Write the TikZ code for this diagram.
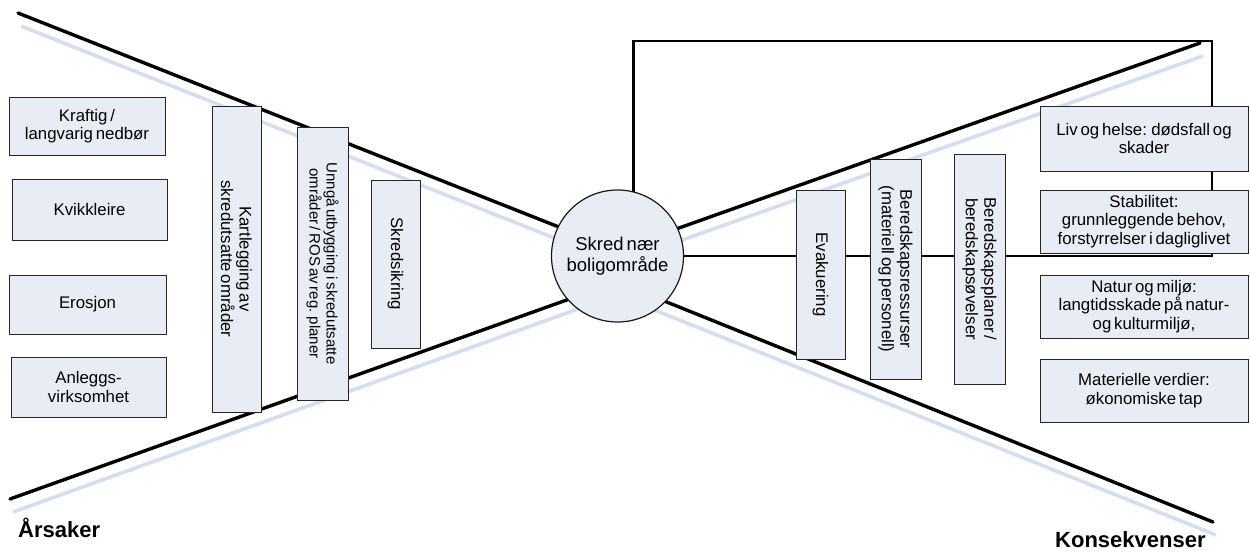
\documentclass[tikz,border=0pt]{standalone}
\usepackage{fontspec}
\setmainfont{Liberation Sans}[WordSpace=0.6]
\usetikzlibrary{calc}
\definecolor{boxfill}{HTML}{E8ECF4}
\definecolor{shadowblue}{HTML}{D3DEF0}
\pgfdeclarelayer{bg}
\pgfsetlayers{bg,main}
\tikzset{
  box/.style={draw=black!85, line width=1pt, fill=boxfill, inner sep=1pt, align=center,
    font=\fontsize{16.8}{18.5}\selectfont},
  vbox/.style={box, rotate=-90},
  hub/.style={circle, draw=black!90, line width=1.2pt, fill=boxfill, inner sep=0pt,
    minimum size=132pt, align=center, font=\fontsize{18.5}{21}\selectfont},
  bowline/.style={line width=3.4pt, black},
  shadowline/.style={line width=3.6pt, shadowblue},
  frameline/.style={line width=2.4pt, black},
  heading/.style={font=\fontsize{22}{24}\selectfont\bfseries, inner sep=0pt}
}
\begin{document}
\begin{tikzpicture}[x=1pt,y=-1pt]
\useasboundingbox (0,0) rectangle (1250,552);

% causes
\node[box, minimum width=156pt, minimum height=58pt] (k1) at (87,126) {Kraftig /\\langvarig nedbør};
\node[box, minimum width=155pt, minimum height=61pt] (k2) at (89.5,209.5) {Kvikkleire};
\node[box, minimum width=157pt, minimum height=59pt] (k3) at (87.5,304.5) {Erosjon};
\node[box, minimum width=155pt, minimum height=60pt] (k4) at (88.5,387) {Anleggs-\\virksomhet};

% preventive barriers
\node[vbox, minimum width=306pt, minimum height=49pt] (ba) at (236.5,259) {Kartlegging av\\skredutsatte områder};
\node[vbox, minimum width=273pt, minimum height=51pt, font=\fontsize{15}{17}\selectfont] (bb) at (322.5,263.5) {Unngå utbygging i skredutsatte\\områder / ROS av reg. planer};
\node[vbox, minimum width=168pt, minimum height=49pt] (bc) at (395.5,264) {Skredsikring};

% hub
\node[hub] (hub) at (617.5,256) {Skred nær\\boligområde};

% mitigating barriers
\node[vbox, minimum width=169pt, minimum height=49pt] (bd) at (820.5,274.5) {Evakuering};
\node[vbox, minimum width=220pt, minimum height=51pt] (be) at (895.5,269) {Beredskapsressurser\\(materiell og personell)};
\node[vbox, minimum width=230pt, minimum height=51pt] (bf) at (979.5,269) {Beredskapsplaner /\\beredskapsøvelser};

% consequences
\node[box, minimum width=208pt, minimum height=65pt] (c1) at (1144,138.5) {Liv og helse: dødsfall og\\skader};
\node[box, minimum width=208pt, minimum height=63pt] (c2) at (1144,221.5) {Stabilitet:\\grunnleggende behov,\\forstyrrelser i dagliglivet};
\node[box, minimum width=208pt, minimum height=63pt] (c3) at (1144,306.5) {Natur og miljø:\\langtidsskade på natur-\\og kulturmiljø,};
\node[box, minimum width=208pt, minimum height=63pt] (c4) at (1144,390.5) {Materielle verdier:\\økonomiske tap};

% headings
\node[heading, anchor=west] (arsaker) at (18,528) {Årsaker};
\node[heading, anchor=west] (kons) at (1055,540) {Konsekvenser};

% bow-tie lines
\coordinate (tl) at (18,13);
\coordinate (bl) at (10,499);
\coordinate (tr) at (1200,43);
\coordinate (br) at (1213,522);
\coordinate (mt) at (617,250);
\coordinate (mb) at (617,282);
\coordinate (fr1) at (1212,41);

\begin{pgfonlayer}{bg}
  \foreach \a/\b in {tl/mt, bl/mb, tr/mt, br/mb}{
    \draw[shadowline] ($(\a)+(3,13)$) -- ($(\b)+(0,13)$);
  }
  \foreach \a/\b in {tl/mt, bl/mb, tr/mt, br/mb}{
    \draw[bowline, line cap=round] (\a) -- (\b);
  }
  \draw[frameline] ($(hub.center)+(16,0)$) |- (fr1) |- (hub.center);
\end{pgfonlayer}
\end{tikzpicture}
\end{document}
